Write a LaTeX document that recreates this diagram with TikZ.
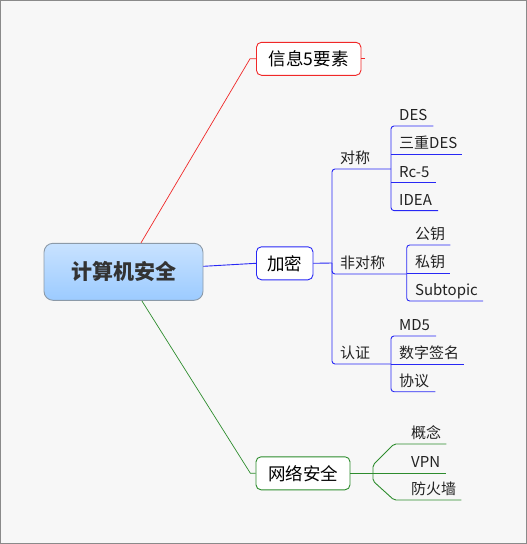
\documentclass[tikz,border=0pt]{standalone}
\usepackage{fontspec}
\setmainfont{Noto Sans CJK SC}
\usetikzlibrary{calc}
\definecolor{bgc}{HTML}{F7F7F7}
\definecolor{framec}{HTML}{8A8A8A}
\definecolor{redc}{RGB}{240,40,40}
\definecolor{bluec}{RGB}{40,40,245}
\definecolor{greenc}{RGB}{45,140,45}
\definecolor{rootb}{HTML}{8C9AA8}
\definecolor{roott}{HTML}{C8E2FF}
\definecolor{rootbot}{HTML}{9CCBFF}
\definecolor{txt}{HTML}{222222}
\begin{document}
\begin{tikzpicture}[x=1pt,y=-1pt,
  topic/.style={draw, fill=white, rounded corners=5pt, line width=0.9pt, inner sep=0pt,
    font=\fontsize{17.5pt}{17.5pt}\selectfont, text=black, minimum height=33pt},
  leaf/.style={inner sep=0pt, anchor=south west, text height=12pt, text depth=5.3pt,
    font=\fontsize{15pt}{15pt}\selectfont, text=txt},
  bl/.style={draw=bluec, line width=0.9pt},
  rd/.style={draw=redc, line width=0.7pt},
  gr/.style={draw=greenc, line width=0.9pt}]
\useasboundingbox (0,0) rectangle (527,544);
\fill[bgc] (0,0) rectangle (527,544);
\draw[framec, line width=1pt] (0.5,0.5) rectangle (526.5,543.5);

% root
\node[draw=rootb, line width=0.9pt, rounded corners=9pt, top color=roott, bottom color=rootbot,
  minimum width=159pt, minimum height=57pt, inner sep=0pt,
  font=\fontsize{21pt}{21pt}\selectfont\bfseries, text={rgb,255:red,51;green,51;blue,51}]
  (root) at (123.5,271.8) {计算机安全};

% main topics
\node[topic, draw=redc, minimum width=104.5pt] (info) at (308.7,58.8) {信息5要素};
\node[topic, draw=bluec, minimum width=56.5pt] (jiami) at (284.7,263.3) {加密};
\node[topic, draw=greenc, minimum width=94pt] (wl) at (303,473.3) {网络安全};

% root connectors
\coordinate (r1) at (250,58.8);
\coordinate (g1) at (250.4,473.3);
\draw[rd] ($(root.north)+(17.5,0)$) -- (r1) -- (info.west);
\draw[rd] (info.east) -- ++(3.5,0);
\draw[bl] ($(root.east)+(0,-5.5)$) -- (jiami.west);
\draw[draw=greenc, line width=0.7pt] ($(root.south)+(18.3,0)$) -- (g1) -- (wl.west);

% second level labels
\node[leaf] (dc) at (340,169) {对称};
\node[leaf] (fdc) at (340,274) {非对称};
\node[leaf] (rz) at (340,364) {认证};

\coordinate (T) at (332,263);
\coordinate (ta) at (332,169);
\coordinate (tc) at (332,364);
\coordinate (sa) at (391,169);
\coordinate (sb) at (406.7,274);
\coordinate (sc) at (391,364);
\draw[bl] (jiami.east) -- (T);
\draw[bl, rounded corners=3pt] (sa) -- (ta) -- (tc) -- (sc);
\draw[bl, rounded corners=3pt] (T) |- (sb);

% leaves A
\node[leaf] (des) at (399,126) {DES};
\node[leaf] (sdes) at (399,154.4) {三重DES};
\node[leaf] (rc) at (399,182.6) {Rc-5};
\node[leaf] (idea) at (399,210.6) {IDEA};
\draw[bl, rounded corners=3pt] ($(des.south east)+(6,0)$) -- (des.south west -| sa) -- (idea.south west -| sa) -- ($(idea.south east)+(6,0)$);
\draw[bl] (sdes.south west -| sa) -- ($(sdes.south east)+(5,0)$);
\draw[bl] (rc.south west -| sa) -- ($(rc.south east)+(6,0)$);

% leaves B
\node[leaf] (gy) at (415,245) {公钥};
\node[leaf] (sy) at (415,273.3) {私钥};
\node[leaf] (sub) at (415,301) {Subtopic};
\draw[bl, rounded corners=3pt] ($(gy.south east)+(5,0)$) -- (gy.south west -| sb) -- (sub.south west -| sb) -- ($(sub.south east)+(5,0)$);
\draw[bl] (sy.south west -| sb) -- ($(sy.south east)+(5,0)$);

% leaves C
\node[leaf] (md) at (399,336) {MD5};
\node[leaf] (sz) at (399,364) {数字签名};
\node[leaf] (xy) at (399,391.7) {协议};
\draw[bl, rounded corners=3pt] ($(md.south east)+(6,0)$) -- (md.south west -| sc) -- (xy.south west -| sc) -- ($(xy.south east)+(6,0)$);
\draw[bl] (sz.south west -| sc) -- ($(sz.south east)+(5,0)$);

% green leaves
\node[leaf] (gn) at (411,444) {概念};
\node[leaf] (vpn) at (411,473.3) {VPN};
\node[leaf] (fhq) at (411,500) {防火墙};
\coordinate (gu) at (373,465);
\coordinate (gd) at (373,481);
\draw[gr] (wl.east) -- ($(vpn.south east)+(6,0)$);
\draw[gr, rounded corners=2pt] ($(gn.south east)+(5,0)$) -- ($(gn.south west)+(-17,0)$) -- (gu) -- (gd) -- ($(fhq.south west)+(-17,0)$) -- ($(fhq.south east)+(5,0)$);
\end{tikzpicture}
\end{document}
